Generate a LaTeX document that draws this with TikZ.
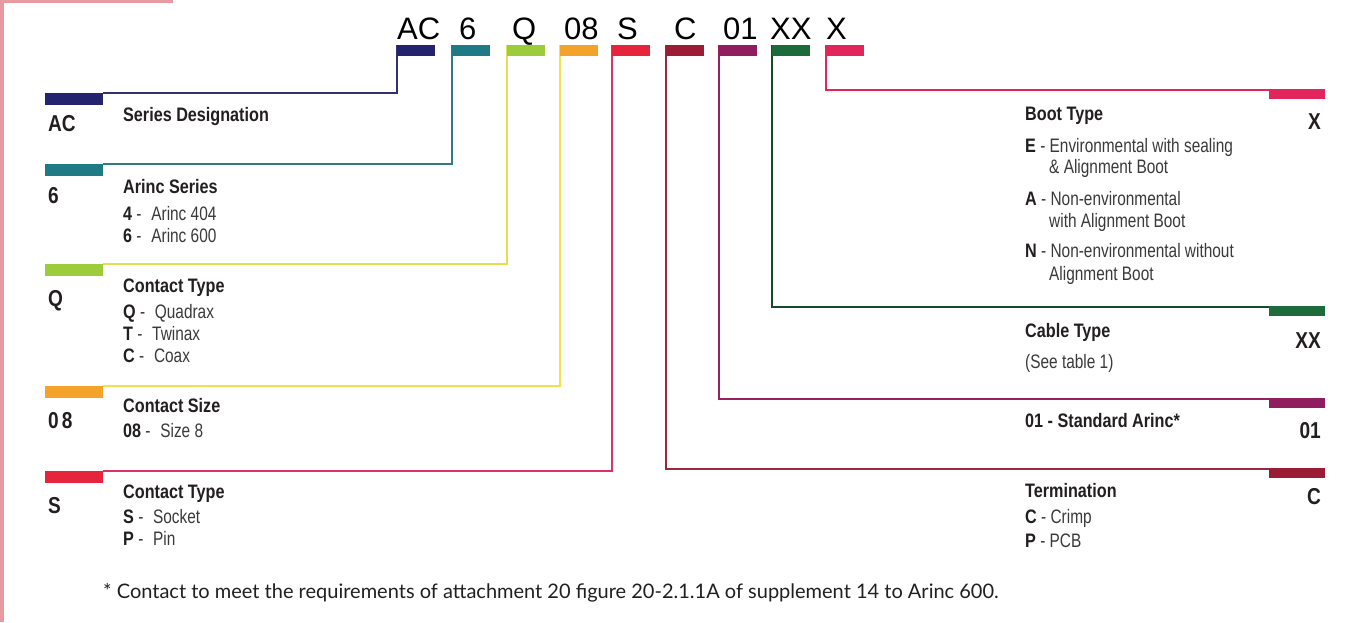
\documentclass[tikz,border=0pt]{standalone}
\usepackage{fontspec}
\setmainfont{Liberation Sans}
\newfontfamily\cond[FakeStretch=0.79]{Liberation Sans}
\newfontfamily\condb[FakeStretch=0.83]{Liberation Sans}
\newfontfamily\footfont{Lato}
\definecolor{cAC}{HTML}{24246E}
\definecolor{c6}{HTML}{1F7A86}
\definecolor{cQ}{HTML}{9CCB3B}
\definecolor{cQl}{HTML}{E3E152}
\definecolor{c08}{HTML}{F3A32A}
\definecolor{c08l}{HTML}{F2E14A}
\definecolor{cS}{HTML}{E6243C}
\definecolor{cSl}{HTML}{E0306A}
\definecolor{cC}{HTML}{9A1C35}
\definecolor{c01}{HTML}{8F1D5F}
\definecolor{cXX}{HTML}{1D6B3B}
\definecolor{cX}{HTML}{E2265C}
\definecolor{pinkedge}{HTML}{E79A9F}
\definecolor{txt}{HTML}{231F20}
\definecolor{txtr}{HTML}{3A3A3A}
\tikzset{
  topbar/.style={fill=#1, draw=none, inner sep=0pt, minimum width=38pt, minimum height=11pt, anchor=north west},
  leftbar/.style={fill=#1, draw=none, inner sep=0pt, minimum width=58pt, minimum height=12pt, anchor=north west},
  rightbar/.style={fill=#1, draw=none, inner sep=0pt, minimum width=56pt, minimum height=10pt, anchor=north west},
  conn/.style={draw=#1, line width=1.6pt},
  codetop/.style={inner sep=0pt, anchor=base west, font=\fontsize{31}{31}\selectfont, text=black},
  code/.style={inner sep=0pt, anchor=base west, font=\fontsize{23}{23}\condb\bfseries, text=txt},
  rcode/.style={inner sep=0pt, anchor=base east, font=\fontsize{23}{23}\condb\bfseries, text=txt},
  ttl/.style={inner sep=0pt, anchor=base west, font=\fontsize{19.5}{19.5}\condb\bfseries, text=txt},
  itm/.style={inner sep=0pt, anchor=base west, font=\fontsize{19.5}{19.5}\cond, text=txtr},
  foot/.style={inner sep=0pt, anchor=base west, font=\fontsize{20}{20}\footfont, text=txt},
}
\newcommand{\kk}[1]{{\condb\bfseries\color{txt}#1}}
\begin{document}
\begin{tikzpicture}[x=1pt,y=-1pt]
\useasboundingbox (0,0) rectangle (1354,622);
\fill[white] (0,0) rectangle (1354,622);
\fill[pinkedge] (0,0) rectangle (4,622);
\fill[pinkedge] (0,0) rectangle (173,3);

% top code letters
\node[codetop] (hAC) at (397,39) {AC};
\node[codetop] (h6) at (459,39) {6};
\node[codetop] (hQ) at (512,39) {Q};
\node[codetop] (h08) at (564,39) {08};
\node[codetop] (hS) at (617,39) {S};
\node[codetop] (hC) at (674,39) {C};
\node[codetop] (h01) at (723,39) {01};
\node[codetop] (hXX) at (770,39) {XX};
\node[codetop] (hX) at (826,39) {X};

% connectors (drawn first, bars on top)
\coordinate (pAC) at (397,45);
\coordinate (p6) at (452,45);
\coordinate (pQ) at (507,45);
\coordinate (p08) at (560,45);
\coordinate (pS) at (612,45);
\coordinate (pC) at (666,45);
\coordinate (p01) at (719,45);
\coordinate (pXX) at (772,45);
\coordinate (pX) at (826,45);
\coordinate (qAC) at (103,93);
\coordinate (q6) at (103,164);
\coordinate (qQ) at (103,264);
\coordinate (q08) at (103,386);
\coordinate (qS) at (103,471);
\coordinate (qX) at (1269,90);
\coordinate (qXX) at (1269,307);
\coordinate (q01) at (1269,399);
\coordinate (qC) at (1269,469);
\draw[conn=cAC!85!gray] (pAC) |- (qAC);
\draw[conn=c6!80!gray] (p6) |- (q6);
\draw[conn=cQl] (pQ) |- (qQ);
\draw[conn=c08l] (p08) |- (q08);
\draw[conn=cSl] (pS) |- (qS);
\draw[conn=cC!85!gray] (pC) |- (qC);
\draw[conn=c01!85!cX] (p01) |- (q01);
\draw[conn=cXX!70!black] (pXX) |- (qXX);
\draw[conn=cX] (pX) |- (qX);

% top bars
\node[topbar=cAC] (tAC) at (397,45) {};
\node[topbar=c6] (t6) at (452,45) {};
\node[topbar=cQ] (tQ) at (507,45) {};
\node[topbar=c08] (t08) at (560,45) {};
\node[topbar=cS] (tS) at (612,45) {};
\node[topbar=cC] (tC) at (666,45) {};
\node[topbar=c01] (t01) at (719,45) {};
\node[topbar=cXX] (tXX) at (772,45) {};
\node[topbar=cX] (tX) at (826,45) {};

% left bars
\node[leftbar=cAC] (lAC) at (45,93) {};
\node[leftbar=c6] (l6) at (45,164) {};
\node[leftbar=cQ] (lQ) at (45,264) {};
\node[leftbar=c08] (l08) at (45,386) {};
\node[leftbar=cS] (lS) at (45,471) {};

% right bars
\node[rightbar=cX] (rX) at (1269,89) {};
\node[rightbar=cXX] (rXX) at (1269,306) {};
\node[rightbar=c01] (r01) at (1269,398) {};
\node[rightbar=cC] (rC) at (1269,468) {};

% left codes
\node[code] (kAC) at (48,131) {AC};
\node[code] (k6) at (48,203) {6};
\node[code] (kQ) at (48,306) {Q};
\node[code] (k08) at (48,428) {0\kern3pt 8};
\node[code] (kS) at (48,513) {S};

% left descriptions
\node[ttl] (dAC) at (123,121) {Series Designation};
\node[ttl] (d6) at (123,193) {Arinc Series};
\node[itm] (d6a) at (123,220) {\kk{4} -\enspace Arinc 404};
\node[itm] (d6b) at (123,242) {\kk{6} -\enspace Arinc 600};
\node[ttl] (dQ) at (123,292) {Contact Type};
\node[itm] (dQa) at (123,318) {\kk{Q} -\enspace Quadrax};
\node[itm] (dQb) at (123,340) {\kk{T} -\enspace Twinax};
\node[itm] (dQc) at (123,362) {\kk{C} -\enspace Coax};
\node[ttl] (d08) at (123,412) {Contact Size};
\node[itm] (d08a) at (123,437) {\kk{08} -\enspace Size 8};
\node[ttl] (dS) at (123,498) {Contact Type};
\node[itm] (dSa) at (123,523) {\kk{S} -\enspace Socket};
\node[itm] (dSb) at (123,545) {\kk{P} -\enspace Pin};

% right codes
\node[rcode] (kX) at (1321,129) {X};
\node[rcode] (kXX) at (1321,348) {XX};
\node[rcode] (k01) at (1321,438) {01};
\node[rcode] (kC) at (1321,504) {C};

% right descriptions
\node[ttl] (dX) at (1025,120) {Boot Type};
\node[itm] (dXa) at (1025,152) {\kk{E} - Environmental with sealing};
\node[itm] (dXa2) at (1049,173) {\& Alignment Boot};
\node[itm] (dXb) at (1025,205) {\kk{A} - Non-environmental};
\node[itm] (dXb2) at (1049,227) {with Alignment Boot};
\node[itm] (dXc) at (1025,257) {\kk{N} - Non-environmental without};
\node[itm] (dXc2) at (1049,280) {Alignment Boot};
\node[ttl] (dXX) at (1025,337) {Cable Type};
\node[itm] (dXXa) at (1025,368) {(See table 1)};
\node[ttl] (d01) at (1025,427) {01 - Standard Arinc*};
\node[ttl] (dC) at (1025,497) {Termination};
\node[itm] (dCa) at (1025,523) {\kk{C} - Crimp};
\node[itm] (dCb) at (1025,547) {\kk{P} - PCB};

% footnote
\node[foot] (fn) at (103,598) {* Contact to meet the requirements of attachment 20 figure 20-2.1.1A of supplement 14 to Arinc 600.};
\end{tikzpicture}
\end{document}
